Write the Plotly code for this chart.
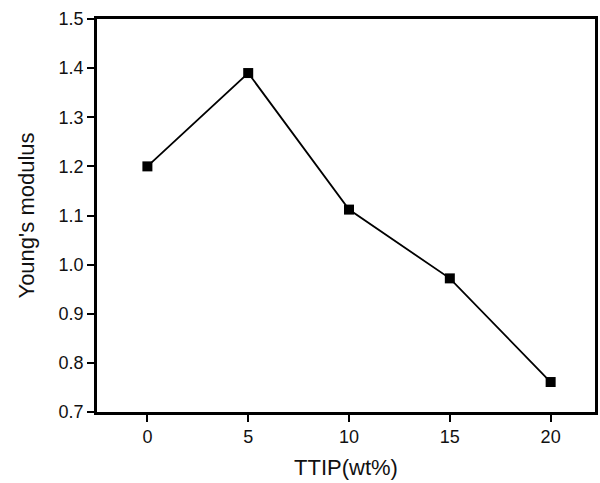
import plotly.graph_objects as go

ttip = [0, 5, 10, 15, 20]
modulus = [1.20, 1.39, 1.112, 0.972, 0.761]
x_ticks = [0, 5, 10, 15, 20]
y_ticks = [0.7, 0.8, 0.9, 1.0, 1.1, 1.2, 1.3, 1.4, 1.5]

FONT = "Liberation Sans, Arial"

fig = go.Figure()
fig.add_trace(go.Scatter(
    x=ttip, y=modulus, mode="lines+markers",
    line=dict(color="black", width=1.8),
    marker=dict(symbol="square", size=10, color="black"),
    showlegend=False,
))

axis_common = dict(
    showline=True, linecolor="black", linewidth=2.5, mirror=True,
    ticks="outside", ticklen=7, tickwidth=2, tickcolor="black",
    showgrid=False, zeroline=False,
    tickfont=dict(family=FONT, size=18, color="#111"),
)

fig.update_xaxes(
    range=[-2.5, 22.2], tickvals=x_ticks, ticktext=[str(v) for v in x_ticks],
    title=dict(text="TTIP(wt%)", font=dict(family=FONT, size=22, color="#111"), standoff=14),
    **axis_common,
)
fig.update_yaxes(
    range=[0.7, 1.5], tickvals=y_ticks, ticktext=[f"{v:.1f}" for v in y_ticks],
    title=dict(text="Young's modulus", font=dict(family=FONT, size=22, color="#111"), standoff=18),
    **axis_common,
)

fig.update_layout(
    width=600, height=483,
    margin=dict(l=97, r=2, t=19, b=71),
    paper_bgcolor="white", plot_bgcolor="white",
)

fig.write_html("out.html")
